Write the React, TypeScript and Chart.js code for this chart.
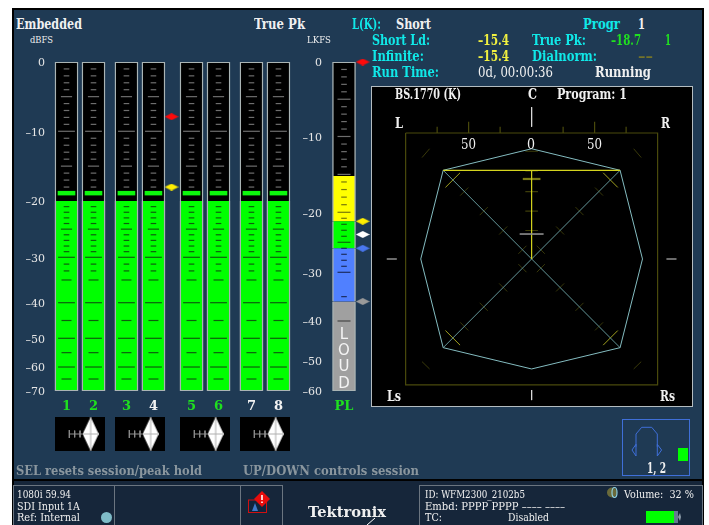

import React, { useEffect, useRef } from "react";
import { Chart, registerables, LinearScale } from "chart.js";

Chart.register(...registerables);

const SERIF = '"DejaVu Serif"';

// ---------- data ----------
const channels = ["1", "2", "3", "4", "5", "6", "7", "8"];
const channelSlots = [1, 2, 3.22, 4.22, 5.63, 6.63, 7.85, 8.85];
const channelColors = ["#1fe01f", "#1fe01f", "#1fe01f", "#f2f2f2", "#1fe01f", "#1fe01f", "#f2f2f2", "#f2f2f2"];
const channelLevels = [-20, -20, -20, -20, -20, -20, -20, -20];
const channelHoldTop = [-18.6, -18.6, -18.6, -18.6, -18.6, -18.6, -18.6, -18.6];
const channelHoldBottom = [-19.15, -19.15, -19.15, -19.15, -19.15, -19.15, -19.15, -19.15];
const dbfsLabels = [0, -10, -20, -30, -40, -50, -60, -70];
const dbfsFractions = [0, 0.2106, 0.4225, 0.5936, 0.7316, 0.8398, 0.9271, 1];
const dbfsMinor = [-1, -2, -3, -4, -6, -7, -8, -9, -11, -12, -13, -14, -16, -17, -18, -21, -22, -23, -24, -26, -27, -28, -29, -31.5, -33];
const dbfsLower = [-35, -45, -55, -65];
const dbfsMid = [-5, -15, -25];
const dbfsMajor = [-10, -30, -40, -50, -60];
const peakMarkers = [-7.9, -18];
const peakColors = ["#ff0a0a", "#ffee00"];

const lkfsLabels = [0, -10, -20, -30, -40, -50, -60];
const lkfsFractions = [0, 0.2264, 0.4568, 0.6392, 0.7872, 0.9073, 1];
const lkfsMinor = [-1, -2, -3, -4, -6, -7, -8, -9, -11, -12, -13, -14, -16, -17, -18, -19, -21, -22, -23, -24, -26, -27, -28, -29, -35];
const lkfsMajor = [-5, -10, -15, -20, -25, -30, -40];
const bandTops = [0, -15.2, -21.5, -26, -36];
const bandBottoms = [-15.2, -21.5, -26, -36, -60];
const bandColors = ["#000000", "#ffff00", "#00ff00", "#5080ff", "#a0a0a0"];
const lkfsMarkers = [0, -21.5, -23.7, -26, -36];
const lkfsMarkerColors = ["#ff0a0a", "#ffee00", "#ffffff", "#4a78f0", "#9a9a9a"];

const octagon = [[0, 87.5], [70.2, 70.4], [88, 0], [70.2, -70.4], [0, -87.3], [-70.2, -70.4], [-88, 0], [-70.2, 70.4], [0, 87.5]];
const diagonals = [[[-70.2, 70.4], [70.2, -70.4]], [[70.2, 70.4], [-70.2, -70.4]]];
const programLines = [[[-70.2, 70.4], [70.2, 70.4]], [[0, 70.4], [0, 0]]];
const graticuleBox = [[-100, 100], [100, 100], [100, -100], [-100, -100], [-100, 100]];
const topTicks = [-75, -25, 25, 75];
const topLongTicks = [-50, 50];
const diagonalMinor = [53.5, 38, 22.6, 7.3];
const diagonalMajor = [62.6];
const centreMinor = [85.5, 70, 53.5, 38, 22.6];
const centreMajor = [63.5];
const centreMarker = [19.8];
const cornerTicks = [[[-87, 80.5], [-81, 87.5]], [[87, 80.5], [81, 87.5]], [[-87, -81.5], [-81, -87.3]], [[87, -81.5], [81, -87.3]]];
const axisStubs = [[[0, 120.5], [0, 105]], [[0, -104], [0, -112]]];
const sideStubs = [[[-115, 0], [-107, 0]], [[107, 0], [115, 0]]];

const balanceLefts = [55, 115, 180, 239.7];
const balanceTicks = [1, 2, 3, 4];
const balanceValue = 5;

// text, left, width, centre y, size, colour, bold
type T = [string, number, number, number, number, string, boolean?];
const WHITE = "#f0f0f0";
const CYAN = "#10e8e8";
const YEL = "#f0f040";
const GRN = "#20e020";
const labels: T[] = [
  ["Embedded", 16, 66, 24, 14, WHITE, true],
  ["dBFS", 30, 23, 39, 10, WHITE],
  ["True Pk", 254, 51, 24, 14, WHITE, true],
  ["LKFS", 307, 24, 39, 10, WHITE],
  ["L(K):", 352, 29, 24, 14, CYAN, true],
  ["Short", 396, 35, 24, 14, WHITE, true],
  ["Progr", 583, 37, 24, 14, CYAN, true],
  ["1", 638, 7, 24, 14, WHITE, true],
  ["Short Ld:", 372, 58, 40, 14, CYAN, true],
  ["–15.4", 478, 31, 40, 14, YEL, true],
  ["True Pk:", 532, 54, 40, 14, CYAN, true],
  ["–18.7", 611, 30, 40, 14, GRN, true],
  ["1", 665, 6, 40, 14, GRN, true],
  ["Infinite:", 372, 52, 56, 14, CYAN, true],
  ["–15.4", 478, 31, 56, 14, YEL, true],
  ["Dialnorm:", 532, 65, 56, 14, CYAN, true],
  ["––", 638, 15, 56, 14, "#73732a", true],
  ["Run Time:", 372, 67, 72, 14, CYAN, true],
  ["0d, 00:00:36", 478, 75, 72, 14, WHITE],
  ["Running", 595, 56, 72, 14, WHITE, true],
  ["BS.1770 (K)", 395, 66, 94, 14, WHITE, true],
  ["C", 528, 9, 94, 14, WHITE, true],
  ["Program: 1", 557, 70, 94, 14, WHITE, true],
  ["L", 395, 8, 123, 14, WHITE, true],
  ["R", 661, 9, 123, 14, WHITE, true],
  ["50", 461, 15, 144, 14, WHITE],
  ["0", 527, 8, 144, 14, WHITE],
  ["50", 587, 15, 144, 14, WHITE],
  ["Ls", 387, 14, 396, 14, WHITE, true],
  ["Rs", 660, 15, 396, 14, WHITE, true],
  ["SEL resets session/peak hold", 16, 186, 470, 13, "#8a969e", true],
  ["UP/DOWN controls session", 243, 176, 470, 13, "#8a969e", true],
  ["1, 2", 647, 19, 468, 14, WHITE, true],
  ["1080i 59.94", 17, 54, 494, 11, WHITE],
  ["SDI Input 1A", 17, 63, 506, 11, WHITE],
  ["Ref: Internal", 17, 63, 517, 11, WHITE],
  ["ID: WFM2300_2102b5", 425, 100, 494, 11, WHITE],
  ["Embd: PPPP PPPP –––– ––––", 425, 140, 506, 11, WHITE],
  ["TC:", 425, 17, 517, 11, WHITE],
  ["Disabled", 508, 41, 517, 11, WHITE],
  ["Volume:  32 %", 624, 70, 494, 11, WHITE],
  ["Tektronix", 308, 78, 512, 15, WHITE, true],
];
const loudLetters = ["L", "O", "U", "D"];
const loudCentres = [334, 350, 366, 382.5];

// ---------- scale with calibrated, non-uniform divisions ----------
const stopSets: Record<string, { values: number[]; fractions: number[] }> = {
  dbfs: { values: dbfsLabels, fractions: dbfsFractions },
  lkfs: { values: lkfsLabels, fractions: lkfsFractions },
};
class MeterScale extends LinearScale {
  static id = "meter";
  static defaults = {};
  getPixelForValue(v: number) {
    if (v === null || v === undefined || Number.isNaN(v)) return NaN;
    const { values, fractions } = stopSets[(this.options as any).stopSet];
    let f = v >= values[0] ? fractions[0] : fractions[fractions.length - 1];
    for (let i = 0; i < values.length - 1; i++) {
      if (v <= values[i] && v >= values[i + 1]) {
        f = fractions[i] + ((values[i] - v) / (values[i] - values[i + 1])) * (fractions[i + 1] - fractions[i]);
        break;
      }
    }
    return this.getPixelForDecimal(1 - f);
  }
}
Chart.register(MeterScale as any);

// ---------- helpers ----------
function diamond(color: string, hw: number, hh: number, cross?: string) {
  const c = document.createElement("canvas");
  c.width = Math.round(hw * 2);
  c.height = Math.round(hh * 2);
  const g = c.getContext("2d")!;
  g.fillStyle = color;
  g.beginPath();
  g.moveTo(0, hh);
  g.lineTo(hw, 0);
  g.lineTo(hw * 2, hh);
  g.lineTo(hw, hh * 2);
  g.closePath();
  g.fill();
  if (cross) {
    g.strokeStyle = cross;
    g.beginPath();
    g.moveTo(0, hh);
    g.lineTo(hw * 2, hh);
    g.moveTo(hw, 0);
    g.lineTo(hw, hh * 2);
    g.stroke();
  }
  return c;
}
function segments(list: number[][][]) {
  const out: { x: number; y: number }[] = [];
  list.forEach((s) => {
    s.forEach(([x, y]) => out.push({ x, y }));
    out.push({ x: NaN, y: NaN });
  });
  return out;
}
const line = (data: any[], color: string, width = 1, order = 1) => ({
  type: "scatter",
  data,
  showLine: true,
  spanGaps: false,
  borderColor: color,
  borderWidth: width,
  pointRadius: 0,
  order,
});
const base = {
  responsive: false,
  animation: false,
  events: [],
  plugins: { legend: { display: false }, tooltip: { enabled: false }, title: { display: false } },
};
const serifTick = (size: number, weight: string = "normal") => ({ family: SERIF, size, weight });
const dash = (points: any[], radius: number, color: any, width = 1.2, order = 1) => ({
  type: "scatter",
  data: points,
  pointStyle: "line",
  pointRadius: radius,
  pointBorderColor: color,
  pointBorderWidth: width,
  showLine: false,
  order,
});
const cross = (slots: number[], values: number[]) =>
  slots.flatMap((x) => values.map((y) => ({ x, y })));
const noPadding = (s: any) => {
  s.paddingTop = 0;
  s.paddingBottom = 0;
  s.paddingLeft = 0;
  s.paddingRight = 0;
};
const noGrid = { display: false, drawTicks: false };

// ---------- charts ----------
function meterConfig() {
  const colour = (ctx: any) => (ctx.parsed && ctx.parsed.y > -19.9 ? "#6e6e6e" : "#0d5f0d");
  return {
    type: "bar",
    data: {
      datasets: [
        {
          data: channelSlots.map((x) => ({ x, y: [-70, 0] })),
          backgroundColor: "#000",
          borderColor: "#aab4b4",
          borderWidth: 1.4,
          borderSkipped: false,
          barThickness: 23,
          grouped: false,
          order: 6,
        },
        {
          data: channelSlots.map((x, i) => ({ x, y: [-70, channelLevels[i]] })),
          backgroundColor: "#00ff00",
          borderColor: "#aab4b4",
          borderWidth: { left: 1.4, right: 1.4, bottom: 1.4, top: 0 },
          borderSkipped: false,
          barThickness: 23,
          grouped: false,
          order: 5,
        },
        {
          data: channelSlots.map((x, i) => ({ x, y: [channelHoldBottom[i], channelHoldTop[i]] })),
          backgroundColor: "#0cf80c",
          barThickness: 17,
          grouped: false,
          order: 4,
        },
        dash(cross(channelSlots, dbfsMinor), 2.8, colour),
        dash(cross(channelSlots, dbfsLower), 5, colour),
        dash(cross(channelSlots, dbfsMid), 5.6, colour),
        dash(cross(channelSlots, dbfsMajor), 8.4, colour),
        ...peakMarkers.map((y, i) => ({
          type: "scatter",
          data: [{ x: 4.889, y }],
          pointStyle: diamond(peakColors[i], 7, 3.5),
          pointRadius: 7,
          showLine: false,
          order: 0,
        })),
      ],
    },
    options: {
      ...base,
      layout: { autoPadding: false, padding: { top: 12, left: 0, right: 0, bottom: 0 } },
      scales: {
        x: {
          type: "linear",
          min: 0.537,
          max: 9.648,
          offset: false,
          grid: noGrid,
          border: { display: false },
          afterBuildTicks: (s: any) => {
            s.ticks = channelSlots.map((value) => ({ value }));
          },
          afterFit: (s: any) => {
            s.height = 30;
            noPadding(s);
          },
          ticks: {
            autoSkip: false,
            maxRotation: 0,
            padding: 8,
            font: serifTick(13, "bold"),
            color: (c: any) => channelColors[c.index],
            callback: (_: any, i: number) => channels[i],
          },
        },
        y: {
          type: "meter",
          stopSet: "dbfs",
          min: -70,
          max: 0,
          grid: noGrid,
          border: { display: false },
          afterBuildTicks: (s: any) => {
            s.ticks = dbfsLabels.map((value) => ({ value }));
          },
          afterFit: (s: any) => {
            s.width = 40;
            noPadding(s);
          },
          ticks: {
            autoSkip: false,
            padding: 9,
            labelOffset: 1.5,
            font: serifTick(11),
            color: "#e6e6e6",
            callback: (v: number) => (v === 0 ? "0" : "–" + Math.abs(v)),
          },
        },
      },
    },
  };
}

function loudnessConfig() {
  const colour = (ctx: any) => {
    const v = ctx.parsed ? ctx.parsed.y : 0;
    if (v > bandBottoms[0]) return "#6e6e6e";
    if (v > bandBottoms[1]) return "#77770a";
    if (v > bandBottoms[2]) return "#0c6a0c";
    if (v > bandBottoms[3]) return "#1c2c60";
    return "#454545";
  };
  return {
    type: "bar",
    data: {
      datasets: [
        ...bandTops.map((top, i) => ({
          data: [{ x: 0, y: [bandBottoms[i], top] }],
          backgroundColor: bandColors[i],
          borderColor: "#aab4b4",
          borderWidth: { left: 1.4, right: 1.4, top: i === 0 ? 1.4 : 0, bottom: i === 4 ? 1.4 : 0 },
          borderSkipped: false,
          barThickness: 23,
          grouped: false,
          order: 6,
        })),
        dash(lkfsMinor.map((y) => ({ x: 0, y })), 2.8, colour),
        dash(lkfsMajor.map((y) => ({ x: 0, y })), 6.5, colour),
        ...lkfsMarkers.map((y, i) => ({
          type: "scatter",
          data: [{ x: 1, y }],
          pointStyle: diamond(lkfsMarkerColors[i], 7, 3.5),
          pointRadius: 7,
          showLine: false,
          clip: false,
          order: 0,
        })),
      ],
    },
    options: {
      ...base,
      layout: { autoPadding: false, padding: { top: 12, left: 0, right: 0, bottom: 0 } },
      scales: {
        x: {
          type: "linear",
          min: -0.856,
          max: 1.497,
          offset: false,
          grid: noGrid,
          border: { display: false },
          afterBuildTicks: (s: any) => {
            s.ticks = [{ value: 0 }];
          },
          afterFit: (s: any) => {
            s.height = 30;
            noPadding(s);
          },
          ticks: {
            autoSkip: false,
            maxRotation: 0,
            padding: 8,
            font: serifTick(13, "bold"),
            color: "#1fe01f",
            callback: () => "PL",
          },
        },
        y: {
          type: "meter",
          stopSet: "lkfs",
          min: -60,
          max: 0,
          grid: noGrid,
          border: { display: false },
          afterBuildTicks: (s: any) => {
            s.ticks = lkfsLabels.map((value) => ({ value }));
          },
          afterFit: (s: any) => {
            s.width = 38;
            noPadding(s);
          },
          ticks: {
            autoSkip: false,
            padding: 6,
            labelOffset: 1.5,
            font: serifTick(11),
            color: "#e6e6e6",
            callback: (v: number) => (v === 0 ? "0" : "–" + Math.abs(v)),
          },
        },
      },
    },
  };
}

function vectorConfig() {
  const olive = "#4a4a0c";
  const perpendicular = (t: number, sx: number, sy: number, h: number) => [
    [sx * t - h * sy, sy * t + h * sx],
    [sx * t + h * sy, sy * t - h * sx],
  ];
  const corners = [[-1, 1], [1, 1], [-1, -1], [1, -1]];
  const diagTicks = (list: number[], h: number) =>
    corners.flatMap(([sx, sy]) => list.map((t) => perpendicular(t, sx, sy, h)));
  const bars = (list: number[], h: number) => list.map((y) => [[-h, y], [h, y]]);
  return {
    type: "scatter",
    data: {
      datasets: [
        line(segments([graticuleBox]), olive, 1.2, 9),
        line(segments(topTicks.map((x) => [[x, 100], [x, 105]])), olive, 1.2, 9),
        line(segments(topLongTicks.map((x) => [[x, 100], [x, 109]])), olive, 1.2, 9),
        line(segments(cornerTicks), "#3a3a0a", 1, 9),
        line(segments(diagTicks(diagonalMinor, 3.2)), "#38380a", 1, 8),
        line(segments(diagTicks(diagonalMajor, 5.8)), "#a0a01e", 1, 8),
        line(segments(bars(centreMinor, 5)), "#3e3e0a", 1.2, 8),
        line(segments(bars(centreMajor, 7)), "#7a7a16", 2.2, 8),
        line(segments(diagonals), "#64979a", 1, 6),
        line(segments([octagon]), "#84bcc0", 1, 5),
        line(segments(programLines), "#d4d41e", 1.2, 4),
        line(segments(bars(centreMarker, 9.5)), "#8e8e8e", 1.6, 3),
        line(segments(axisStubs), "#d8d8d8", 1, 3),
        line(segments(sideStubs), "#8e8e8e", 1.6, 3),
      ],
    },
    options: {
      ...base,
      layout: { padding: 0 },
      scales: {
        x: { type: "linear", display: false, min: -126.7, max: 127.3 },
        y: { type: "linear", display: false, min: -116.7, max: 137.3 },
      },
    },
  };
}

function balanceConfig() {
  return {
    type: "scatter",
    data: {
      datasets: [
        {
          data: [{ x: balanceValue, y: 0 }],
          pointStyle: diamond("#ffffff", 8, 17, "#b0b0b0"),
          pointRadius: 8,
          showLine: false,
          clip: false,
          order: 0,
        },
        line(segments([[[balanceTicks[0], 0], [balanceValue, 0]]]), "#8f8f8f", 1, 2),
        line(segments(balanceTicks.map((x, i) => [[x, i === 0 ? 0.5 : 0.42], [x, i === 0 ? -0.5 : -0.42]])), "#8a8a8a", 1, 2),
      ],
    },
    options: {
      ...base,
      layout: { padding: 0 },
      scales: {
        x: { type: "linear", display: false, min: 0, max: 6 },
        y: { type: "linear", display: false, min: -1, max: 1 },
      },
    },
  };
}

// ---------- components ----------
function ChartBox({ left, top, width, height, make, background }: any) {
  const ref = useRef<HTMLCanvasElement>(null);
  useEffect(() => {
    const chart = new Chart(ref.current!, make());
    return () => chart.destroy();
  }, []);
  return (
    <canvas
      ref={ref}
      width={width}
      height={height}
      style={{ position: "absolute", left, top, width, height, display: "block", background }}
    />
  );
}

const measure = document.createElement("canvas").getContext("2d")!;
function Label({ t }: { t: T }) {
  const [text, left, width, cy, size, color, bold] = t;
  measure.font = `${bold ? "bold " : ""}${size}px ${SERIF}`;
  const scale = width / measure.measureText(text).width;
  const lineHeight = Math.ceil(size * 1.3);
  return (
    <div
      style={{
        position: "absolute",
        left,
        top: Math.round(cy - lineHeight / 2),
        font: `${bold ? "bold " : ""}${size}px/${lineHeight}px ${SERIF}`,
        color,
        whiteSpace: "pre",
        transformOrigin: "0 50%",
        transform: `scaleX(${scale})`,
      }}
    >
      {text}
    </div>
  );
}

const rect = (left: number, top: number, width: number, height: number, style: any = {}) => (
  <div style={{ position: "absolute", left, top, width, height, boxSizing: "border-box", ...style }} />
);

export default function App() {
  return (
    <div style={{ position: "absolute", left: 0, top: 0, width: 709, height: 525, background: "#fff", overflow: "hidden" }}>
      {rect(12, 8, 692, 517, { background: "#000" })}
      {rect(14, 10, 688, 469, { background: "#1f3a54" })}
      {rect(14, 481, 688, 44, { background: "#16263a" })}
      {rect(371, 85.5, 322, 321, { background: "#000", border: "1.5px solid #b4bcc0" })}
      <ChartBox left={372} top={86} width={320} height={320} make={vectorConfig} />
      <ChartBox left={14} top={50} width={286} height={371} make={meterConfig} />
      <ChartBox left={290} top={50} width={82} height={371} make={loudnessConfig} />
      {balanceLefts.map((left) => (
        <ChartBox key={left} left={left} top={417} width={50} height={34} make={balanceConfig} background="#000" />
      ))}
      {loudLetters.map((l, i) => (
        <div
          key={l}
          style={{
            position: "absolute",
            left: 333,
            width: 22,
            top: loudCentres[i],
            transform: "translateY(-50%)",
            textAlign: "center",
            font: "15px/1 'DejaVu Sans'",
            color: "#f4f4f4",
          }}
        >
          {l}
        </div>
      ))}
      {labels.map((t, i) => (
        <Label key={i} t={t} />
      ))}
      {/* status strip frames */}
      {rect(13, 485, 270, 40, { border: "1px solid #6b7580", borderBottom: "none" })}
      {rect(114, 485, 1, 40, { background: "#6b7580" })}
      {rect(240, 485, 1, 40, { background: "#6b7580" })}
      {rect(419, 485, 284, 40, { border: "1px solid #6b7580", borderBottom: "none" })}
      {rect(622.3, 419.3, 68, 56.4, { border: "1px solid #3f6fd8" })}
      {rect(677.5, 448, 10.5, 13, { background: "#00ff00" })}
      {rect(101, 512, 11, 11, { background: "#7fbcc8", borderRadius: "50%" })}
      {rect(646, 511.3, 28, 11.4, { background: "#00ff00" })}
      {rect(674, 511.3, 4, 11.4, { background: "#667a90" })}
      <svg width={709} height={525} style={{ position: "absolute", left: 0, top: 0, pointerEvents: "none" }}>
        <g fill="none" stroke="#3f6fd8" strokeWidth={1}>
          <path d="M636 446.7V434L641.7 427.3H651.7L657.3 434V446.7" />
          <path d="M636 444.3L632 450L636 456Z" />
          <path d="M657.3 444.3L661.6 450L657.3 456Z" />
        </g>
        <rect x={248.5} y={500} width={18} height={12.5} fill="#10243c" stroke="#d01010" strokeWidth={1} />
        <path d="M262 491L270 499L262 507L254 499Z" fill="#e80c0c" />
        <path d="M262 495V500M262 501.5V503" stroke="#fff" strokeWidth={1.6} />
        <path d="M252 511L255 503L258 511Z" fill="#3f78c8" />
        <path d="M367 525L375 518" stroke="#fff" strokeWidth={1} />
        <g fill="none">
          <circle cx={612} cy={492.5} r={5} fill="#6a6a3a" />
          <ellipse cx={614.5} cy={492.5} rx={2.5} ry={5} stroke="#8fd0e0" strokeWidth={1.2} />
        </g>
        <path d="M678 517L680 513L681 517L680 521Z" fill="#8a9aa8" />
      </svg>
    </div>
  );
}
